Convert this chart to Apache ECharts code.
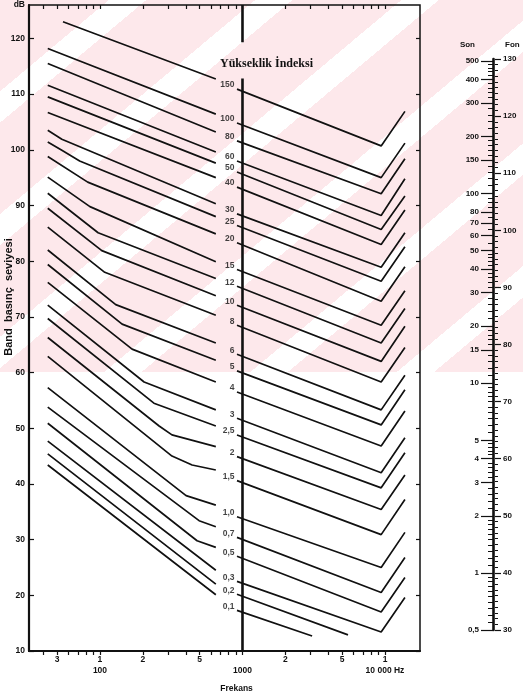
<!DOCTYPE html>
<html>
<head>
<meta charset="utf-8">
<script src="https://cdn.jsdelivr.net/npm/echarts@6/dist/echarts.min.js"></script>
<style>
    html, body { margin: 0; padding: 0; background: #fff; }
    #wrap { position: relative; width: 523px; height: 698px; overflow: hidden; }
    /* pembe filigran şeritleri */
    #stripes {
        position: absolute; left: 0; top: 0; width: 523px; height: 372px;
        background: repeating-linear-gradient(140deg, #fde8eb 0 70px, #ffffff 70px 94px);
    }
    #chart { position: absolute; left: 0; top: 0; width: 523px; height: 698px; }
</style>
</head>
<body>
<div id="wrap"><div id="stripes"></div><div id="chart"></div></div>
<script>
(function () {
    // Yükseklik indeksi eğrileri
    const indexNames = ['150', '100', '80', '60', '50', '40', '30', '25', '20', '15', '12', '10', '8',
        '6', '5', '4', '3', '2,5', '2', '1,5', '1,0', '0,7', '0,5', '0,3', '0,2', '0,1'];

    // sol parça: başlangıç (Hz, dB), kırılma noktaları, 650 Hz'deki bitiş
    const startHz = [55, 43, 43, 43, 43, 43, 43, 43, 43, 43, 43, 43, 43,
        43, 43, 43, 43, 43, 43, 43, 43, 43, 43, 43, 43, 43];
    const startDb = [123.0, 118.2, 115.5, 111.6, 109.5, 106.7, 103.5, 101.4, 98.8, 95.1, 92.2, 89.5, 86.1,
        82.0, 79.4, 76.2, 72.1, 69.7, 66.3, 62.9, 57.3, 53.8, 50.9, 47.7, 45.4, 43.4];
    const bends = [[], [], [], [], [], [], [[54, 101.9]], [[54, 99.9], [72, 98.0]], [[82, 94.2]],
        [[85, 89.8]], [[97, 85.1]], [[103, 81.9]], [[108, 78.0]], [[129, 72.2]], [[143, 68.7]],
        [[168, 64.2]], [[204, 58.3]], [[239, 54.5]], [[260, 50.4], [320, 48.8]],
        [[320, 45.0], [443, 43.4]], [[402, 37.9]], [[496, 33.4]], [[480, 29.8]], [], [], []];
    const leftEndHz = 650;
    const leftEndDb = [112.7, 106.4, 103.2, 99.6, 97.6, 95.0, 90.3, 88.0, 84.9, 79.9, 76.9, 73.8, 70.3,
        65.3, 62.2, 58.3, 53.3, 50.4, 46.7, 42.5, 36.2, 32.3, 28.6, 24.5, 22.0, 20.1];

    // sağ parça: 915 Hz -> çukur -> yükseliş
    const rightStartHz = 915;
    const rightStartDb = [110.9, 104.8, 101.6, 98.0, 96.0, 93.3, 88.5, 86.4, 83.3, 78.5, 75.5, 72.1, 68.5,
        63.3, 60.3, 56.5, 51.8, 48.8, 44.9, 40.6, 34.1, 30.4, 27.0, 22.5, 20.2, 17.3];
    const dipHz = 9400;
    const dipDb = [100.7, 95.0, 92.1, 88.2, 85.7, 83.0, 78.9, 76.4, 72.8, 68.5, 65.3, 62.0, 58.3,
        53.3, 50.6, 46.8, 42.0, 39.3, 35.4, 30.9, 25.0, 20.5, 17.0, 13.4, null, null];
    const riseHz = 13800;
    const riseDb = [106.9, 101.2, 98.4, 94.8, 91.7, 89.2, 85.1, 82.6, 79.0, 74.7, 71.5, 68.3, 64.5,
        59.5, 56.9, 53.1, 48.3, 45.6, 41.6, 37.2, 31.3, 26.8, 23.2, 19.6, null, null];
    // en alttaki iki eğri çukura inmeden biter
    const cutoffNames = ['0,2', '0,1'];
    const cutoffEnds = [[5500, 12.9], [3080, 12.7]];

    // 1000 Hz dikey çizgisi (başlık için boşluklu)
    const refLine = [[1000, 10], [1000, 112.8], [null, null], [1000, 119.3], [1000, 126]];

    // eksen değerleri
    const freqTicks = [40, 50, 60, 70, 80, 90, 100, 200, 300, 400, 500, 600, 700, 800, 900,
        1000, 2000, 3000, 4000, 5000, 6000, 7000, 8000, 9000, 10000];
    const freqLabels = [50, 100, 200, 500, 1000, 2000, 5000, 10000];
    const freqLabelText = ['3', '1\n100', '2', '5', '\n1000', '2', '5', '1\n10 000 Hz'];
    const dbTicks = [10, 20, 30, 40, 50, 60, 70, 80, 90, 100, 110, 120];

    // son / fon cetveli
    const soneLabels = [0.5, 1, 2, 3, 4, 5, 10, 15, 20, 30, 40, 50, 60, 70, 80, 100, 150, 200, 300, 400, 500];

    function steps(from, to, step) {
        const out = [];
        for (let v = from; v <= to + 1e-9; v += step) out.push(+v.toFixed(3));
        return out;
    }
    const soneMinor = [].concat(steps(0.5, 1, 0.05), steps(1, 2, 0.1), steps(2, 5, 0.2), steps(5, 10, 0.5),
        steps(10, 20, 1), steps(20, 50, 2), steps(50, 100, 5), steps(100, 200, 10), steps(200, 500, 20));

    const ink = '#111';
    const font = '"Liberation Sans", Arial, sans-serif';

    let chart = echarts.init(document.querySelector('#chart'));

    let series = [];
    indexNames.forEach(function (name, i) {
        let pts = [[startHz[i], startDb[i]]].concat(bends[i], [[leftEndHz, leftEndDb[i]]]);
        pts.push([null, null]);
        pts.push([rightStartHz, rightStartDb[i]]);
        let cut = cutoffNames.indexOf(name);
        if (cut >= 0) {
            pts.push(cutoffEnds[cut]);
        } else {
            pts.push([dipHz, dipDb[i]]);
            pts.push([riseHz, riseDb[i]]);
        }
        series.push({
            type: 'line',
            name: name,
            data: pts,
            showSymbol: false,
            silent: true,
            lineStyle: { color: ink, width: 1.7 },
            xAxisIndex: 0,
            yAxisIndex: 0
        });
    });

    // eğri etiketleri
    series.push({
        type: 'scatter',
        data: indexNames.map(function (n, i) {
            return { name: n, value: [rightStartHz, rightStartDb[i]] };
        }),
        symbolSize: 1,
        itemStyle: { color: 'rgba(0,0,0,0)' },
        silent: true,
        label: {
            show: true,
            position: 'left',
            distance: 2,
            offset: [0, -4],
            formatter: '{b}',
            color: ink,
            fontFamily: font,
            fontWeight: 'bold',
            fontSize: 8.5
        },
        xAxisIndex: 0,
        yAxisIndex: 0
    });

    series.push({
        type: 'line',
        data: refLine,
        showSymbol: false,
        silent: true,
        lineStyle: { color: ink, width: 2.6 },
        xAxisIndex: 0,
        yAxisIndex: 0
    });

    let tickText = {
        color: ink,
        fontFamily: font,
        fontWeight: 'bold',
        fontSize: 8.5
    };

    let option = {
        backgroundColor: 'transparent',
        animation: false,
        title: {
            text: 'Yükseklik İndeksi',
            left: 215,
            top: 53,
            textStyle: {
                color: ink,
                fontFamily: '"Liberation Serif", "Times New Roman", serif',
                fontWeight: 'bold',
                fontSize: 12
            }
        },
        graphic: [{
            type: 'text',
            x: 9,
            y: 297,
            rotation: Math.PI / 2,
            style: {
                text: 'Band  basınç  seviyesi',
                fill: ink,
                font: 'bold 11px "Liberation Sans", Arial, sans-serif',
                align: 'center',
                verticalAlign: 'middle'
            }
        }],
        grid: [
            { left: 29, right: 103, top: 5, bottom: 44, show: true, borderColor: ink, borderWidth: 1.5 },
            // son / fon cetveli
            { left: 493, width: 2, top: 59, height: 571 },
            { left: 493, width: 2, top: 59, height: 571 }
        ],
        xAxis: [
            {
                type: 'log',
                logBase: 10,
                min: 31.76,
                max: 17605,
                gridIndex: 0,
                position: 'bottom',
                name: 'Frekans',
                nameLocation: 'middle',
                nameGap: 33,
                nameTextStyle: Object.assign({ padding: [0, 0, 0, 24] }, tickText),
                axisLine: { onZero: false, lineStyle: { color: ink, width: 2.2 } },
                axisTick: { customValues: freqTicks, length: 4, inside: false, lineStyle: { color: ink, width: 1.2 } },
                axisLabel: Object.assign({
                    customValues: freqLabels,
                    margin: 3,
                    lineHeight: 11,
                    formatter: function (v) {
                        let k = freqLabels.indexOf(Math.round(v));
                        return k >= 0 ? freqLabelText[k] : '';
                    }
                }, tickText),
                splitLine: { show: false }
            },
            {
                type: 'log',
                logBase: 10,
                min: 31.76,
                max: 17605,
                gridIndex: 0,
                position: 'top',
                axisLine: { show: false },
                axisTick: { customValues: freqTicks, length: 4, inside: true, lineStyle: { color: ink, width: 1.2 } },
                axisLabel: { show: false },
                splitLine: { show: false }
            },
            { type: 'value', gridIndex: 1, show: false, min: 0, max: 1 },
            { type: 'value', gridIndex: 2, show: false, min: 0, max: 1 }
        ],
        yAxis: [
            {
                type: 'value',
                min: 10,
                max: 126,
                gridIndex: 0,
                position: 'left',
                name: 'dB',
                nameLocation: 'end',
                nameGap: 0,
                nameTextStyle: Object.assign({ align: 'right', verticalAlign: 'middle', padding: [0, 4, 0, 0] }, tickText),
                axisLine: { onZero: false, lineStyle: { color: ink, width: 2.2 } },
                axisTick: { customValues: dbTicks, inside: true, length: 5, lineStyle: { color: ink, width: 1.2 } },
                axisLabel: Object.assign({ customValues: dbTicks, margin: 4 }, tickText),
                splitLine: { show: false }
            },
            {
                type: 'value',
                min: 10,
                max: 126,
                gridIndex: 0,
                position: 'right',
                axisLine: { show: false },
                axisTick: { customValues: dbTicks, inside: true, length: 4, lineStyle: { color: ink, width: 1.2 } },
                axisLabel: { show: false },
                splitLine: { show: false }
            },
            {
                // son ölçeği (log2)
                type: 'log',
                logBase: 2,
                min: 0.5,
                max: 512,
                gridIndex: 1,
                position: 'left',
                name: 'Son',
                nameLocation: 'end',
                nameGap: 10,
                nameTextStyle: Object.assign({ align: 'right', padding: [0, 18, 0, 0] }, tickText, { fontSize: 8 }),
                axisLine: { onZero: false, lineStyle: { color: ink, width: 2.6 } },
                axisTick: { customValues: soneLabels, length: 12, lineStyle: { color: ink, width: 1.2 } },
                axisLabel: Object.assign({
                    customValues: soneLabels,
                    margin: 14,
                    formatter: function (v) { return String(v).replace('.', ','); }
                }, tickText, { fontSize: 8 }),
                splitLine: { show: false }
            },
            {
                // fon ölçeği
                type: 'value',
                min: 30,
                max: 130,
                interval: 10,
                gridIndex: 1,
                position: 'right',
                name: 'Fon',
                nameLocation: 'end',
                nameGap: 10,
                nameTextStyle: Object.assign({ align: 'left', padding: [0, 0, 0, 10] }, tickText, { fontSize: 8 }),
                axisLine: { show: false, onZero: false },
                axisTick: { length: 6, lineStyle: { color: ink, width: 1.2 } },
                minorTick: { show: true, splitNumber: 10, length: 3, lineStyle: { color: ink, width: 1 } },
                axisLabel: Object.assign({ margin: 8 }, tickText, { fontSize: 8 }),
                splitLine: { show: false }
            },
            {
                // son ara çizgileri
                type: 'log',
                logBase: 2,
                min: 0.5,
                max: 512,
                gridIndex: 2,
                position: 'left',
                axisLine: { show: false, onZero: false },
                axisTick: { customValues: soneMinor, length: 5, lineStyle: { color: ink, width: 1 } },
                axisLabel: { show: false },
                splitLine: { show: false }
            }
        ],
        series: series
    };

    chart.setOption(option);

    window.addEventListener('resize', function () { chart.resize(); });
})();
</script>
</body>
</html>
